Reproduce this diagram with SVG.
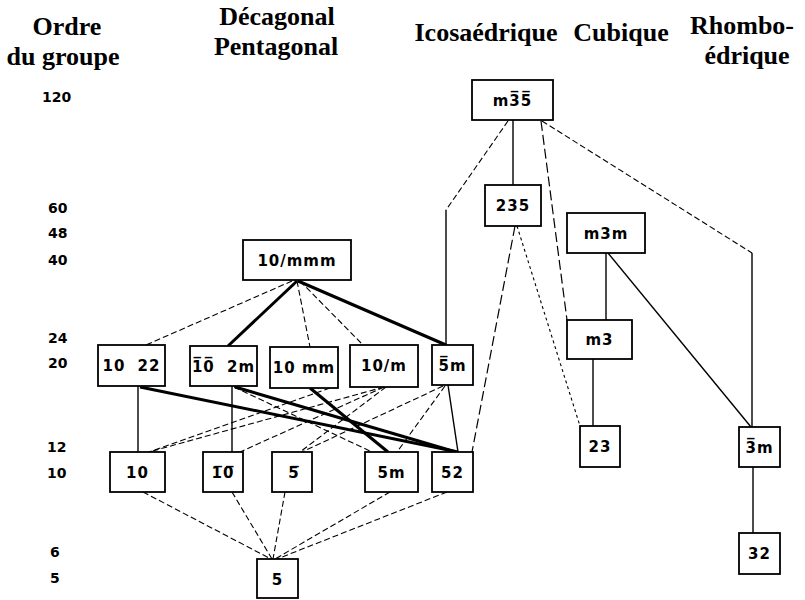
<svg xmlns="http://www.w3.org/2000/svg" width="805" height="600" viewBox="0 0 805 600">
<style>
.h{font-family:"Liberation Serif","Times New Roman",serif;font-weight:bold;font-size:26px;fill:#000;text-anchor:middle}
.o{font-family:"DejaVu Sans",sans-serif;font-weight:bold;font-size:14px;fill:#000}
.n rect{fill:#fff;stroke:#000;stroke-width:1.8}
.n text{font-family:"DejaVu Sans",sans-serif;font-weight:bold;font-size:15px;fill:#000;text-anchor:middle;letter-spacing:1px}
.s{stroke:#000;stroke-width:1.4;fill:none}
.d{stroke:#000;stroke-width:1.1;fill:none;stroke-dasharray:6 3}
.l{stroke:#000;stroke-width:1.2;fill:none;stroke-dasharray:10 4}
.p{stroke:#000;stroke-width:1.1;fill:none;stroke-dasharray:3 3}
.t{stroke:#000;stroke-width:3;fill:none}
</style>
<g id="headers">
<text class="h" x="67" y="35">Ordre</text>
<text class="h" x="63" y="65">du groupe</text>
<text class="h" x="277" y="25">Décagonal</text>
<text class="h" x="276" y="55">Pentagonal</text>
<text class="h" x="486" y="41">Icosaédrique</text>
<text class="h" x="621" y="41">Cubique</text>
<text class="h" x="742" y="34">Rhombo-</text>
<text class="h" x="747" y="64">édrique</text>
</g>
<g id="orders">
<text class="o" x="42" y="102">120</text>
<text class="o" x="48" y="213">60</text>
<text class="o" x="48" y="238">48</text>
<text class="o" x="48" y="265">40</text>
<text class="o" x="48" y="343">24</text>
<text class="o" x="48" y="368">20</text>
<text class="o" x="47" y="452">12</text>
<text class="o" x="47" y="478">10</text>
<text class="o" x="50" y="557">6</text>
<text class="o" x="50" y="583">5</text>
</g>
<g id="connectors">
<line class="s" x1="513" y1="120" x2="513" y2="185"/>
<line class="s" x1="446" y1="210" x2="446" y2="345"/>
<line class="s" x1="752" y1="253" x2="752" y2="427"/>
<line class="s" x1="606" y1="253" x2="606" y2="320"/>
<line class="s" x1="608" y1="253" x2="751" y2="427"/>
<line class="s" x1="593" y1="359" x2="593" y2="426"/>
<line class="s" x1="753" y1="467" x2="753" y2="533"/>
<line class="s" x1="138" y1="386" x2="138" y2="452"/>
<line class="s" x1="232" y1="386" x2="232" y2="452"/>
<line class="s" x1="448" y1="385" x2="458" y2="452"/>
<line class="d" x1="508" y1="121" x2="446" y2="210"/>
<line class="d" x1="542" y1="121" x2="752" y2="253"/>
<line class="d" x1="292" y1="281" x2="146" y2="345"/>
<line class="d" x1="297" y1="281" x2="310" y2="347"/>
<line class="d" x1="300" y1="281" x2="363" y2="345"/>
<line class="d" x1="234" y1="387" x2="372" y2="452"/>
<line class="d" x1="330" y1="388" x2="149" y2="452"/>
<line class="d" x1="384" y1="387" x2="149" y2="452"/>
<line class="d" x1="384" y1="387" x2="240" y2="452"/>
<line class="d" x1="386" y1="387" x2="300" y2="452"/>
<line class="d" x1="443" y1="386" x2="302" y2="452"/>
<line class="d" x1="445" y1="386" x2="397" y2="452"/>
<line class="d" x1="143" y1="492" x2="271" y2="559"/>
<line class="d" x1="232" y1="492" x2="272" y2="559"/>
<line class="d" x1="285" y1="492" x2="273" y2="559"/>
<line class="d" x1="390" y1="492" x2="275" y2="559"/>
<line class="d" x1="447" y1="492" x2="277" y2="559"/>
<line class="p" x1="517" y1="226" x2="580" y2="426"/>
<line class="l" x1="515" y1="226" x2="472" y2="452"/>
<line class="l" x1="541" y1="121" x2="567" y2="320"/>
<line class="t" x1="297" y1="281" x2="228" y2="346"/>
<line class="t" x1="298" y1="281" x2="446" y2="345"/>
<line class="t" x1="140" y1="387" x2="458" y2="452"/>
<line class="t" x1="235" y1="387" x2="456" y2="452"/>
<line class="t" x1="310" y1="388" x2="388" y2="452"/>
</g>
<g id="n-m35" class="n"><rect x="472" y="80" width="81" height="40"/><text x="512.5" y="106">m3&#x305;5&#x305;</text></g>
<g id="n-235" class="n"><rect x="485" y="185" width="56" height="41"/><text x="513" y="211">235</text></g>
<g id="n-m3m" class="n"><rect x="567" y="213" width="78" height="40"/><text x="606" y="239">m3m</text></g>
<g id="n-10mmm" class="n"><rect x="243" y="240" width="108" height="40"/><text x="297" y="266">10/mmm</text></g>
<g id="n-1022" class="n"><rect x="98" y="345" width="67" height="41"/><text x="131.5" y="371">10 <tspan dx="6">22</tspan></text></g>
<g id="n-b102m" class="n"><rect x="190" y="346" width="67" height="40"/><text x="223.5" y="372">1&#x305;0&#x305; <tspan dx="6">2m</tspan></text></g>
<g id="n-10mm" class="n"><rect x="270" y="347" width="68" height="41"/><text x="304" y="373">10 mm</text></g>
<g id="n-10m" class="n"><rect x="350" y="345" width="68" height="42"/><text x="384" y="371">10/m</text></g>
<g id="n-b5m" class="n"><rect x="432" y="345" width="41" height="40"/><text x="452.5" y="371">5&#x305;m</text></g>
<g id="n-m3" class="n"><rect x="567" y="320" width="65" height="39"/><text x="599.5" y="345">m3</text></g>
<g id="n-23" class="n"><rect x="580" y="426" width="40" height="41"/><text x="600" y="452">23</text></g>
<g id="n-b3m" class="n"><rect x="739" y="427" width="41" height="40"/><text x="759.5" y="453">3&#x305;m</text></g>
<g id="n-32" class="n"><rect x="739" y="533" width="41" height="41"/><text x="759.5" y="559">32</text></g>
<g id="n-10" class="n"><rect x="110" y="452" width="55" height="40"/><text x="137.5" y="478">10</text></g>
<g id="n-b10" class="n"><rect x="203" y="452" width="40" height="40"/><text x="223" y="478">1&#x305;0&#x305;</text></g>
<g id="n-b5" class="n"><rect x="272" y="452" width="40" height="40"/><text x="294" y="478">5&#x305;</text></g>
<g id="n-5m" class="n"><rect x="365" y="452" width="53" height="40"/><text x="391.5" y="478">5m</text></g>
<g id="n-52" class="n"><rect x="432" y="452" width="41" height="40"/><text x="452.5" y="478">52</text></g>
<g id="n-5" class="n"><rect x="257" y="559" width="41" height="39"/><text x="277.5" y="585">5</text></g>
</svg>
